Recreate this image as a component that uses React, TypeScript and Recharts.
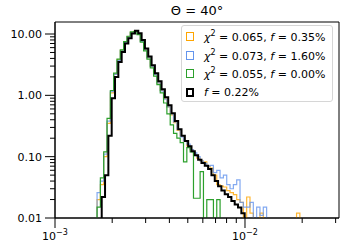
import { LineChart, Line, XAxis, YAxis, ReferenceArea } from "recharts";

// log-spaced histogram bins (decades), colored models use bins shifted by a fraction of a bin
const LOG_START = -2.7716;
const LOG_STEP = 0.0175;
const MODEL_SHIFT = -0.4;
const FLOOR = 1e-4; // empty bins drawn below the axis and clipped

const dataHist = [
  0, 0.022, 0.05, 0.22, 0.9, 2.0, 3.5, 5.1, 7.0, 8.5, 10.2, 11.3, 10.3, 8.0, 5.8, 4.3, 3.1, 2.3, 1.7, 1.26,
  0.93, 0.69, 0.51, 0.38, 0.28, 0.22, 0.18, 0.148, 0.123, 0.105, 0.089, 0.079, 0.071, 0.063, 0.05, 0.04,
  0.033, 0.028, 0.0245, 0.022, 0.019, 0.0166, 0.0148, 0.012, 0,
];
const orangeHist = [
  0.02, 0.035, 0.1, 0.35, 1.1, 2.2, 3.8, 5.4, 7.4, 9.0, 10.6, 11.1, 10.1, 7.7, 5.6, 4.1, 3.0, 2.2, 1.6, 1.2,
  0.88, 0.65, 0.48, 0.36, 0.27, 0.22, 0.18, 0.15, 0.13, 0.105, 0.095, 0.085, 0.082, 0.07, 0.065, 0.05, 0.035,
  0.033, 0.032, 0.028, 0.026, 0.024, 0.02, 0.018, 0, 0.022, 0.012, 0, 0, 0.012, 0, 0, 0, 0, 0, 0, 0, 0, 0,
  0, 0.012, 0,
];
const blueHist = [
  0.026, 0.04, 0.11, 0.38, 1.15, 2.2, 3.7, 5.3, 7.3, 8.9, 10.4, 11.0, 10.0, 7.6, 5.5, 4.1, 3.0, 2.2, 1.6, 1.18,
  0.87, 0.65, 0.5, 0.37, 0.28, 0.21, 0.18, 0.16, 0.13, 0.115, 0.1, 0.085, 0.078, 0.07, 0.072, 0.055, 0.06,
  0.045, 0.05, 0.035, 0.03, 0.035, 0.042, 0.018, 0.015, 0.015, 0.018, 0, 0.015, 0.011, 0.015, 0,
];
const greenHist = [
  0.015, 0.045, 0.12, 0.42, 1.2, 2.3, 3.9, 5.5, 7.5, 9.2, 10.8, 11.0, 9.8, 7.4, 5.3, 3.9, 2.8, 2.05, 1.5, 1.1,
  0.75, 0.5, 0.33, 0.24, 0.2, 0.17, 0.082, 0.14, 0.12, 0.021, 0.021, 0.057, 0, 0.02, 0.02, 0, 0.02, 0,
];

const labels = [
  { name: "orange", chi: "0.065", f: "0.35%", color: "#ffa500" },
  { name: "blue", chi: "0.073", f: "1.60%", color: "#6495ed" },
  { name: "green", chi: "0.055", f: "0.00%", color: "#2ca02c" },
];

const X_MAJOR = [0.001, 0.01];
const X_TICKS = [0.001, 0.002, 0.003, 0.004, 0.005, 0.006, 0.007, 0.008, 0.009, 0.01, 0.02, 0.03];
const Y_MAJOR = [0.01, 0.1, 1, 10];
const Y_TICKS = [
  0.01, 0.02, 0.03, 0.04, 0.05, 0.06, 0.07, 0.08, 0.09, 0.1, 0.2, 0.3, 0.4, 0.5, 0.6, 0.7, 0.8, 0.9, 1, 2, 3,
  4, 5, 6, 7, 8, 9, 10,
];

function toSteps(values: number[], shift: number) {
  const pts = values.map((v, i) => ({
    x: Math.pow(10, LOG_START + (i + shift) * LOG_STEP),
    y: v > 0 ? v : FLOOR,
  }));
  return [{ x: pts[0].x, y: FLOOR }, ...pts];
}

const XTick = ({ x, y, payload }: any) => {
  const major = X_MAJOR.includes(payload.value);
  const exp = Math.round(Math.log10(payload.value));
  return (
    <g>
      <line x1={x} x2={x} y1={y} y2={y + (major ? 10 : 5)} stroke="#000" strokeWidth={1} />
      {major && (
        <text x={x} y={y + 22} textAnchor="middle" fontSize={11} fill="#000">
          10
          <tspan dy={-5} fontSize={8}>
            {"\u2212" + Math.abs(exp)}
          </tspan>
        </text>
      )}
    </g>
  );
};

const YTick = ({ x, y, payload }: any) => {
  const major = Y_MAJOR.includes(payload.value);
  const len = major ? 10 : 5;
  return (
    <g>
      <line x1={x - len} x2={x} y1={y} y2={y} stroke="#000" strokeWidth={1} />
      {major && (
        <text x={x - len - 3} y={y} dy={4} textAnchor="end" fontSize={11} fill="#000">
          {payload.value.toFixed(2)}
        </text>
      )}
    </g>
  );
};

function Handle({ color, width }: { color: string; width: number }) {
  return (
    <span
      style={{
        display: "inline-block",
        width: 8 - 2 * width,
        height: 9 - 2 * width,
        border: `${width}px solid ${color}`,
        marginRight: 10,
        boxSizing: "content-box",
      }}
    />
  );
}

export default function App() {
  return (
    <div
      style={{
        position: "absolute",
        left: 0,
        top: 0,
        width: 344,
        height: 249,
        fontFamily: "'DejaVu Sans', sans-serif",
        background: "#fff",
      }}
    >
      <div style={{ position: "absolute", left: 55, width: 284, top: 3, textAlign: "center", fontSize: 13 }}>
        Θ = 40°
      </div>
      <LineChart width={344} height={249} margin={{ top: 22, right: 5, bottom: 0, left: 0 }}>
        <XAxis
          dataKey="x"
          type="number"
          scale="log"
          domain={[0.001, 0.03125]}
          allowDataOverflow
          ticks={X_TICKS}
          interval={0}
          tickSize={0}
          tickMargin={0}
          tick={<XTick />}
          height={31}
          stroke="#000"
        />
        <YAxis
          type="number"
          scale="log"
          domain={[0.01, 15.7]}
          allowDataOverflow
          ticks={Y_TICKS}
          interval={0}
          tickSize={0}
          tickMargin={0}
          tick={<YTick />}
          width={55}
          stroke="#000"
        />
        <ReferenceArea x1={0.001} x2={0.03125} y1={0.01} y2={15.7} fill="none" stroke="#000" strokeWidth={1} />
        <Line data={toSteps(orangeHist, MODEL_SHIFT)} dataKey="y" type="stepAfter" stroke="#ffa500" strokeOpacity={0.8} strokeWidth={1.2} dot={false} isAnimationActive={false} />
        <Line data={toSteps(blueHist, MODEL_SHIFT)} dataKey="y" type="stepAfter" stroke="#6495ed" strokeOpacity={0.8} strokeWidth={1.2} dot={false} isAnimationActive={false} />
        <Line data={toSteps(greenHist, MODEL_SHIFT)} dataKey="y" type="stepAfter" stroke="#2ca02c" strokeWidth={1.2} dot={false} isAnimationActive={false} />
        <Line data={toSteps(dataHist, 0)} dataKey="y" type="stepAfter" stroke="#000" strokeWidth={2} dot={false} isAnimationActive={false} />
      </LineChart>
      <div
        style={{
          position: "absolute",
          left: 181,
          top: 25,
          width: 152,
          height: 77,
          border: "1px solid #d6d6d6",
          borderRadius: 3,
          background: "rgba(255,255,255,0.8)",
          boxSizing: "border-box",
          paddingTop: 1,
          paddingLeft: 4,
          fontSize: 11,
        }}
      >
        {labels.map((l) => (
          <div key={l.name} style={{ height: 18.7, display: "flex", alignItems: "center", whiteSpace: "nowrap" }}>
            <Handle color={l.color} width={1} />
            <span>
              <i>χ</i>
              <sup style={{ fontSize: 8 }}>2</sup> = {l.chi}, <i>f</i> = {l.f}
            </span>
          </div>
        ))}
        <div style={{ height: 18.7, display: "flex", alignItems: "center", whiteSpace: "nowrap" }}>
          <Handle color="#000" width={2} />
          <span>
            <i>f</i> = 0.22%
          </span>
        </div>
      </div>
    </div>
  );
}
